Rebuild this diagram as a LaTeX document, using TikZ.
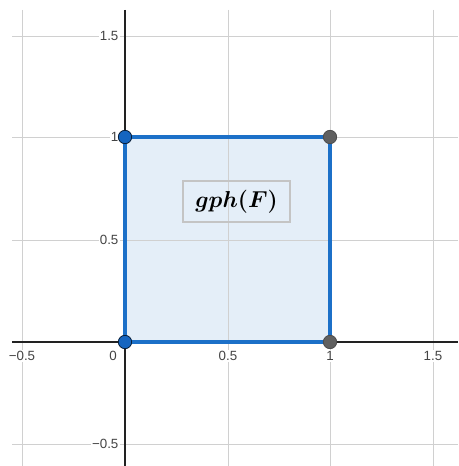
\documentclass[tikz,border=0pt]{standalone}
\usepackage{amsmath,bm}
\usepackage{fontspec}
\setsansfont{Liberation Sans}
\definecolor{gridc}{HTML}{D0D0D0}
\definecolor{boxc}{HTML}{C4C4C4}
\definecolor{axisc}{HTML}{222222}
\definecolor{sqfill}{HTML}{E4EEF8}
\definecolor{sqline}{HTML}{1C70C8}
\definecolor{ptblue}{HTML}{1565C0}
\definecolor{ptgray}{HTML}{606060}
\definecolor{ticktext}{HTML}{444444}
\tikzset{
  gridline/.style={draw=gridc, line width=0.6pt},
  axisline/.style={draw=axisc, line width=1pt},
  ticklab/.style={font=\sffamily\fontsize{10}{12}\selectfont, text=ticktext, fill=white, inner sep=1pt},
  bluept/.style={circle, fill=ptblue, draw=black!70!ptblue, line width=0.6pt, minimum size=10pt, inner sep=0pt},
  graypt/.style={circle, fill=ptgray, draw=black!70, line width=0.6pt, minimum size=10pt, inner sep=0pt},
  labbox/.style={draw=boxc, line width=1.5pt, minimum width=80pt, minimum height=30pt, inner sep=0pt}
}
\begin{document}
\begin{tikzpicture}[x=0.75pt,y=-0.75pt]
\useasboundingbox[fill=white] (0,0) rectangle (458,466);
% square fill
\fill[sqfill] (125,342) rectangle (330,137);
% grid
\foreach \gx in {22,228,330,433} \draw[gridline] (\gx,10) -- (\gx,466);
\foreach \gy in {36,137,240,444} \draw[gridline] (12,\gy) -- (458,\gy);
% axes
\coordinate (xl) at (12,342); \coordinate (xr) at (458,342);
\coordinate (yt) at (125,10); \coordinate (yb) at (125,466);
\draw[axisline] (xl) -- (xr);
\draw[axisline] (yt) -- (yb);
% tick labels
\node[ticklab, anchor=east] (y15) at (120,36) {1.5};
\node[ticklab, anchor=east] (y1) at (120,137) {1};
\node[ticklab, anchor=east] (y05) at (120,240) {0.5};
\node[ticklab, anchor=east] (ym05) at (120,444) {−0.5};
\node[ticklab] (xm05) at (22,356) {−0.5};
\node[ticklab] (x0) at (113,356) {0};
\node[ticklab] (x05) at (228,356) {0.5};
\node[ticklab] (x1) at (330,356) {1};
\node[ticklab] (x15) at (433,356) {1.5};
% points (positions)
\coordinate (c00) at (125,342);
\coordinate (c01) at (125,137);
\coordinate (c10) at (330,342);
\coordinate (c11) at (330,137);
% square border
\draw[draw=sqline, line width=2.4pt, line join=miter] (c00) -- (c01) -- (c11) -- (c10) -- cycle;
\node[bluept] (p00) at (c00) {};
\node[bluept] (p01) at (c01) {};
\node[graypt] (p10) at (c10) {};
\node[graypt] (p11) at (c11) {};
% label
\node[labbox] (lab) at (236.5,201.5) {\fontsize{16.5}{19}\selectfont$\bm{gph(F)}$};
\end{tikzpicture}
\end{document}
